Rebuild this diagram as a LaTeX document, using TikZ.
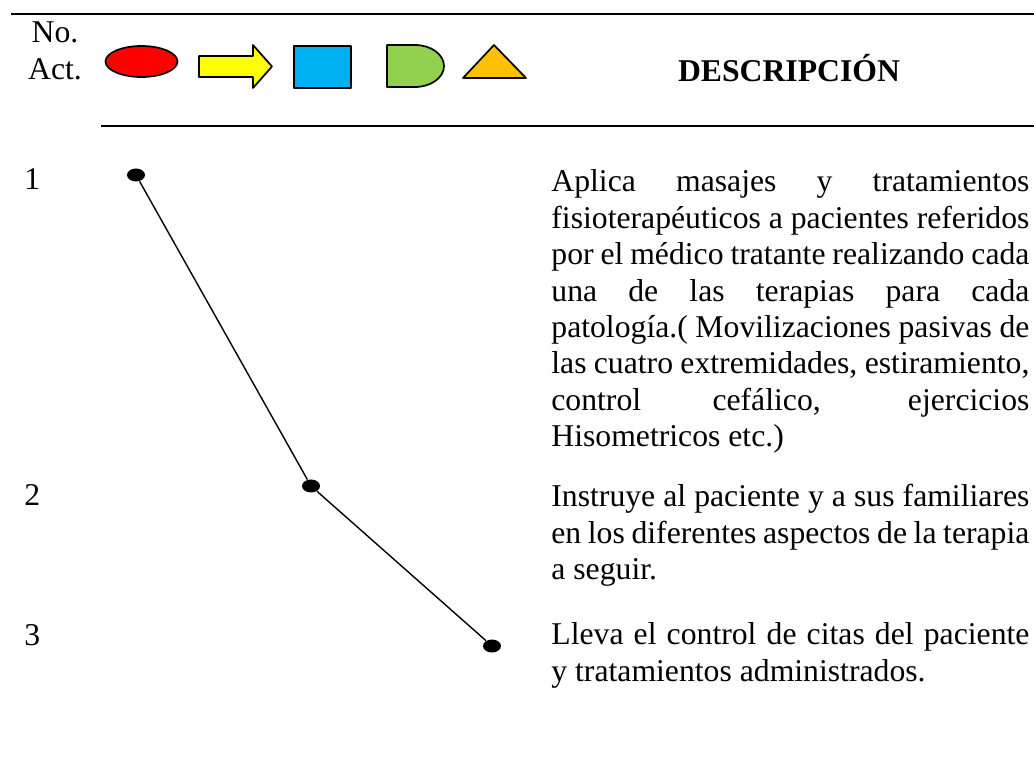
\documentclass[tikz,border=0pt]{standalone}
\usepackage{fontspec}
\setmainfont{Liberation Serif}
\usepackage{tikz}
\usetikzlibrary{shapes.geometric}
\definecolor{opred}{HTML}{FF0000}
\definecolor{trnyel}{HTML}{FFFF00}
\definecolor{insblue}{HTML}{00B0F0}
\definecolor{dlygreen}{HTML}{92D050}
\definecolor{storamber}{HTML}{FFC000}
\tikzset{fig/.style={line join=round,x=0.5pt,y=-0.5pt},
  sym/.style={draw=black,line width=0.85pt},
  rule/.style={line width=1pt},
  txt/.style={font=\fontsize{15.85pt}{18.2pt}\selectfont,inner sep=0pt},
  head/.style={font=\fontsize{15.85pt}{18.2pt}\selectfont\bfseries,inner sep=0pt},
  desc/.style={txt,text width=239pt,align=justify,anchor=base west},
  num/.style={txt,anchor=base west},
  dot/.style={ellipse,fill=black,inner sep=0pt,minimum width=9pt,minimum height=6.5pt},
  link/.style={line width=0.7pt}}
\tolerance=10000
\hbadness=10000
\hyphenpenalty=10000

\begin{document}
\begin{tikzpicture}[fig]
  \useasboundingbox (0,0) rectangle (1034,780);
  % header rules
  \draw[rule] (11,14) -- (1034,14);
  \draw[rule] (101,126) -- (1034,126);
  % header texts
  \node[txt,anchor=base] (hdrno) at (55,43) {No.};
  \node[txt,anchor=base] (hdract) at (55,80) {Act.};
  \node[head,anchor=base] (hdrdesc) at (789,82) {DESCRIPCIÓN};
  % legend symbols
  \draw[sym,fill=opred] (141.5,61.5) ellipse [x radius=36,y radius=15.5];
  \draw[sym,fill=trnyel] (199,56) -- (253,56) -- (253,45) -- (272,66.5) -- (253,88) -- (253,77) -- (199,77) -- cycle;
  \draw[sym,fill=insblue] (294,46) rectangle (351,88);
  \draw[sym,fill=dlygreen] (387,45) -- (415,45) .. controls (431,45) and (444,54.4) .. (444,66) .. controls (444,77.6) and (431,87) .. (415,87) -- (387,87) -- cycle;
  \draw[sym,fill=storamber] (463,78) -- (494,45) -- (526,78) -- cycle;
  % activity numbers
  \node[num] (n1) at (24,190) {1};
  \node[num] (n2) at (24,506) {2};
  \node[num] (n3) at (24,646) {3};
  % descriptions
  \node[desc] (d1) at (551,192) {Aplica masajes y tratamientos\linebreak fisioterapéuticos a pacientes referidos\linebreak por el médico tratante realizando cada\linebreak una de las terapias para cada\linebreak patología.( Movilizaciones pasivas de\linebreak las cuatro extremidades, estiramiento,\linebreak control cefálico, ejercicios\linebreak Hisometricos etc.)};
  \node[desc] (d2) at (551,507) {Instruye al paciente y a sus familiares\linebreak en los diferentes aspectos de la terapia\linebreak a seguir.};
  \node[desc] (d3) at (551,645) {Lleva el control de citas del paciente\linebreak y tratamientos administrados.};
  % flow of the activities
  \node[dot] (p1) at (136,175) {};
  \node[dot] (p2) at (311,486) {};
  \node[dot] (p3) at (492,646) {};
  \draw[link] (p1) -- (p2) -- (p3);
\end{tikzpicture}
\end{document}
